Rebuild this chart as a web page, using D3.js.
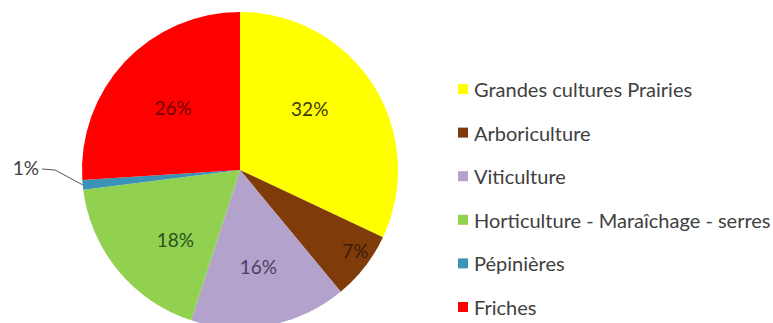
<!DOCTYPE html>
<html>
<head>
<meta charset="utf-8">
<script src="https://cdn.jsdelivr.net/npm/d3@7"></script>
<style>
  html, body { margin: 0; padding: 0; background: #fff; }
  svg { display: block; }
  text { font-family: Lato, "Open Sans", "Liberation Sans", sans-serif; }
</style>
</head>
<body>
<svg id="chart" width="773" height="323"></svg>
<script>
// Land use shares (%)
const categories = [
  "Grandes cultures Prairies",
  "Arboriculture",
  "Viticulture",
  "Horticulture - Maraîchage - serres",
  "Pépinières",
  "Friches"
];
const values = [32, 7, 16, 18, 1, 26];
const colors = ["#FFFF00", "#7F3C0A", "#B3A3CC", "#92D050", "#3C93B8", "#FF0000"];
const labelColors = ["#3a3a10", "#3a1a05", "#4a4060", "#2a5020", "#404040", "#700000"];

const svg = d3.select("#chart");
const cx = 240, cy = 170, r = 158;

const pie = d3.pie().sort(null).value(d => d)(values);
const arc = d3.arc().innerRadius(0).outerRadius(r);

const g = svg.append("g").attr("transform", `translate(${cx},${cy})`);

g.selectAll("path.slice")
  .data(pie)
  .join("path")
  .attr("class", "slice")
  .attr("d", arc)
  .attr("fill", (d, i) => colors[i]);

// Best-fit placement for the in-slice labels: radius as a fraction of r,
// plus an angular nudge (radians) so wide labels stay clear of edges
const place = [
  { k: 0.59, da: -0.16 },
  { k: 0.89, da: -0.05 },
  { k: 0.62, da: 0 },
  { k: 0.60, da: -0.13 },
  { k: 0, da: 0 },
  { k: 0.58, da: 0 }
];
g.selectAll("text.pct")
  .data(pie.filter(d => values[d.index] >= 5))
  .join("text")
  .attr("class", "pct")
  .attr("transform", d => {
    const p = place[d.index];
    const a = (d.startAngle + d.endAngle) / 2 + p.da;
    return `translate(${Math.sin(a) * r * p.k},${-Math.cos(a) * r * p.k})`;
  })
  .attr("text-anchor", "middle")
  .attr("dominant-baseline", "central")
  .attr("font-size", 19)
  .attr("fill", d => labelColors[d.index])
  .text(d => values[d.index] + "%");

// Small slice: outside label with leader line
const small = pie[4];
const mid = (small.startAngle + small.endAngle) / 2;
const edge = [Math.sin(mid) * r, -Math.cos(mid) * r];
const labelPos = [-201, -3];
g.append("path")
  .attr("d", d3.line()([edge, [labelPos[0] + 16, labelPos[1] + 3], [labelPos[0] + 3, labelPos[1] + 2]]))
  .attr("fill", "none")
  .attr("stroke", "#555")
  .attr("stroke-width", 1);
g.append("text")
  .attr("x", labelPos[0])
  .attr("y", labelPos[1])
  .attr("text-anchor", "end")
  .attr("dominant-baseline", "central")
  .attr("font-size", 19)
  .attr("fill", "#404040")
  .text(values[4] + "%");

// Legend
const legendY = d3.scalePoint().domain(categories).range([89, 307]);
const lg = svg.append("g");
const rows = lg.selectAll("g.row").data(categories).join("g")
  .attr("class", "row")
  .attr("transform", d => `translate(458,${legendY(d)})`);
rows.append("rect")
  .attr("x", 0).attr("y", -5)
  .attr("width", 10).attr("height", 10)
  .attr("fill", (d, i) => colors[i]);
rows.append("text")
  .attr("x", 16)
  .attr("y", 0)
  .attr("dominant-baseline", "central")
  .attr("font-size", 20)
  .attr("fill", "#404040")
  .text(d => d);
</script>
</body>
</html>
